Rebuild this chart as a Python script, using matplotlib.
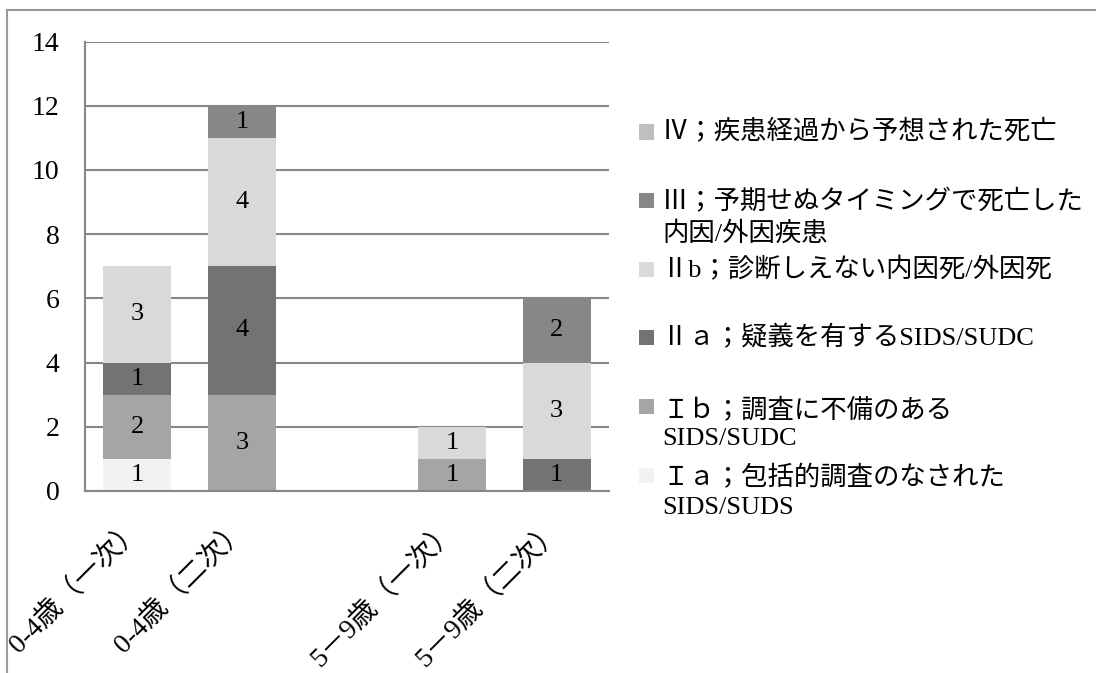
import numpy as np
import matplotlib
matplotlib.use('Agg')
import matplotlib.pyplot as plt
from matplotlib.patches import Rectangle
from matplotlib.lines import Line2D
from matplotlib.transforms import ScaledTranslation

plt.rcParams['font.family'] = ['Liberation Serif', 'Noto Sans CJK JP']

# カテゴリ（3番目は空欄）
categories = ['0-4歳（一次）', '0-4歳（二次）', '', '5－9歳（一次）', '5－9歳（二次）']

# 下から積み上げる順
series_names = [
    'Ｉａ；包括的調査のなされた\nSIDS/SUDS',
    'Ｉｂ；調査に不備のある\nSIDS/SUDC',
    'Ⅱａ；疑義を有するSIDS/SUDC',
    'Ⅱb；診断しえない内因死/外因死',
    'Ⅲ；予期せぬタイミングで死亡した\n内因/外因疾患',
    'Ⅳ；疾患経過から予想された死亡',
]
Ia = [1, 0, 0, 0, 0]
Ib = [2, 3, 0, 1, 0]
IIa = [1, 4, 0, 0, 1]
IIb = [3, 4, 0, 1, 3]
III = [0, 1, 0, 0, 2]
IV = [0, 0, 0, 0, 0]
series_values = [Ia, Ib, IIa, IIb, III, IV]
colors = ['#f2f2f2', '#a5a5a5', '#737373', '#d9d9d9', '#878787', '#bfbfbf']

W, H = 1096, 673
fig = plt.figure(figsize=(W / 100, H / 100), dpi=100)
ax = fig.add_axes([85 / W, 1 - 491 / H, (609 - 85) / W, (491 - 41.5) / H])

x = np.arange(len(categories))
bottom = np.zeros(len(categories))
for vals, c in zip(series_values, colors):
    vals = np.array(vals, dtype=float)
    bars = ax.bar(x, vals, width=0.65, bottom=bottom, color=c, linewidth=0, zorder=2)
    ax.bar_label(bars, labels=['' if v == 0 else '%d' % v for v in vals],
                 label_type='center', fontsize=19)
    bottom += vals

ax.set_xlim(-0.5, len(categories) - 0.5)
ax.set_ylim(0, 14)
ax.set_yticks(np.arange(0, 15, 2))
ax.set_xticks(x)
ax.set_xticklabels(categories, rotation=45, ha='right', va='top', fontsize=20)
ax.tick_params(axis='y', length=0, pad=18.5, labelsize=20)
ax.tick_params(axis='x', length=0, pad=18)
shift = ScaledTranslation(10 / 100, 0, fig.dpi_scale_trans)
for lab in ax.get_xticklabels():
    lab.set_transform(lab.get_transform() + shift)

ax.yaxis.grid(True, color='#868686', linewidth=1.5, zorder=0)
ax.set_axisbelow(True)
for s in ['top', 'right']:
    ax.spines[s].set_visible(False)
for s in ['left', 'bottom']:
    ax.spines[s].set_color('#868686')
    ax.spines[s].set_linewidth(1.5)

# 凡例（上から IV -> Ia）
sq = 15
for i, k in enumerate(range(len(series_names) - 1, -1, -1)):
    yc = 132 + 68.6 * i
    fig.patches.append(Rectangle((639 / W, 1 - (yc + sq / 2) / H), sq / W, sq / H,
                                 transform=fig.transFigure, color=colors[k], linewidth=0))
    nlines = series_names[k].count('\n') + 1
    fig.text(662 / W, 1 - (yc + (nlines - 1) * 17) / H, series_names[k],
             fontsize=19, va='center', ha='left', linespacing=1.35)

# 外枠
fig.add_artist(Line2D([7 / W, 7 / W], [0, 1 - 9.5 / H], color='#999999', linewidth=1.5))
fig.add_artist(Line2D([7 / W, 1], [1 - 9.5 / H, 1 - 9.5 / H], color='#999999', linewidth=1.5))

plt.savefig('out.png', dpi=100)
